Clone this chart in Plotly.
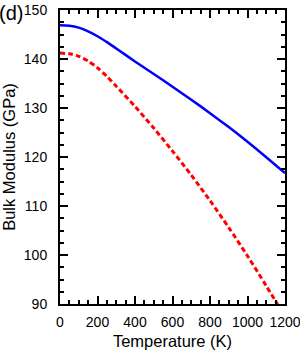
import plotly.graph_objects as go

temperature_blue = [0, 50, 100, 150, 200, 250, 300, 400, 500, 600, 700, 800, 900, 1000, 1100, 1200]
bulk_blue = [146.9, 146.8, 146.4, 145.65, 144.65, 143.45, 142.15, 139.5, 136.95, 134.35, 131.7, 128.95, 126.1, 123.1, 119.95, 116.7]

temperature_red = [0, 50, 100, 150, 200, 250, 300, 400, 500, 600, 700, 800, 900, 1000, 1100, 1200]
bulk_red = [141.2, 141.05, 140.55, 139.6, 138.2, 136.45, 134.45, 130.3, 125.9, 121.2, 116.3, 111.1, 105.6, 99.8, 93.7, 87.4]

x_ticks = [0, 200, 400, 600, 800, 1000, 1200]
y_ticks = [90, 100, 110, 120, 130, 140, 150]

FONT = "Liberation Sans, Arial, Helvetica"

fig = go.Figure()
fig.add_trace(go.Scatter(x=temperature_blue, y=bulk_blue, mode="lines",
                         line=dict(color="#0000ff", width=2.5, shape="spline", smoothing=0.8),
                         showlegend=False))
fig.add_trace(go.Scatter(x=temperature_red, y=bulk_red, mode="lines",
                         line=dict(color="#ff0000", width=3, dash="5px,3px", shape="spline", smoothing=0.8),
                         showlegend=False))

axis_common = dict(showline=True, linecolor="black", linewidth=2, mirror="allticks",
                   ticks="inside", ticklen=8, tickwidth=1.5, tickcolor="black",
                   showgrid=False, zeroline=False, automargin=False,
                   ticklabeloverflow="allow",
                   tickfont=dict(family=FONT, size=14, color="black"))

fig.update_xaxes(range=[0, 1200], tickvals=x_ticks, ticklabelstandoff=4,
                 minor=dict(dtick=50, ticks="inside", ticklen=4, tickwidth=1.5, tickcolor="black"),
                 title=dict(text="Temperature (K)", font=dict(family=FONT, size=16.5, color="black"), standoff=8),
                 **axis_common)
fig.update_yaxes(range=[90, 150], tickvals=y_ticks, ticklabelstandoff=8,
                 minor=dict(dtick=2.5, ticks="inside", ticklen=4, tickwidth=1.5, tickcolor="black"),
                 title=dict(text="Bulk Modulus (GPa)", font=dict(family=FONT, size=16.5, color="black"), standoff=6),
                 **axis_common)

fig.add_annotation(text="(d)", xref="paper", yref="paper", x=-0.274, y=0.99, xanchor="left", yanchor="middle",
                   showarrow=False, borderpad=0, font=dict(family=FONT, size=20, color="black"))

fig.update_layout(width=300, height=350, margin=dict(l=60, r=15, t=10, b=46, autoexpand=False),
                  plot_bgcolor="white", paper_bgcolor="white")

fig.write_html("out.html", config={"displayModeBar": False},
               post_script="document.body.style.margin='0px';")
